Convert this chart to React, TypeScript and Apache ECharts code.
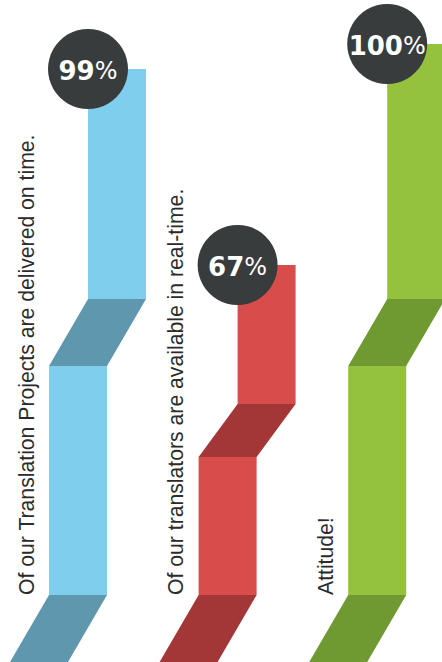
import React, { useEffect, useRef } from 'react';
import * as echarts from 'echarts';

// Texts of each ribbon
const categories = [
  'Of our Translation Projects are delivered on time.',
  'Of our translators are available in real-time.',
  'Attitude!',
];
// Percent shown in the badge of each ribbon
const percentValues = [99, 67, 100];
// Vertical levels of each ribbon (value units, 0 = bottom of the chart)
const barTops = [593, 397, 618];
const upperFoldTops = [363, 258, 363];
const upperFoldBottoms = [296, 205, 296];
const lowerFoldTops = [67, 67, 67];

const lightColors = ['#80ceed', '#d94c4c', '#94c23f'];
const darkColors = ['#5f98ae', '#a33636', '#6f9a31'];

export default function App() {
  const ref = useRef<HTMLDivElement>(null);

  useEffect(() => {
    if (!ref.current) return;
    const chart = echarts.init(ref.current, undefined, { renderer: 'svg' });
    const W = 58;
    const S = 39;
    const data = categories.map((_, i) => [
      i,
      barTops[i],
      upperFoldTops[i],
      upperFoldBottoms[i],
      lowerFoldTops[i],
    ]);
    chart.setOption({
      animation: false,
      backgroundColor: '#ffffff',
      grid: { left: 0, top: 0, right: 0, bottom: 0 },
      xAxis: { type: 'value', min: -0.5214, max: 2.4331, show: false },
      yAxis: { type: 'value', min: 0, max: 662, show: false },
      series: [
        {
          type: 'custom',
          clip: false,
          data,
          renderItem: (params: any, api: any) => {
            const i = api.value(0);
            const base = api.coord([i, 0]);
            const cx = base[0];
            const y0 = base[1];
            const yTop = api.coord([i, api.value(1)])[1];
            const yUT = api.coord([i, api.value(2)])[1];
            const yUB = api.coord([i, api.value(3)])[1];
            const yLT = api.coord([i, api.value(4)])[1];
            const L = cx - W / 2;
            const light = lightColors[i];
            const dark = darkColors[i];
            return {
              type: 'group',
              children: [
                {
                  type: 'rect',
                  shape: { x: L + S, y: yTop, width: W, height: yUT - yTop },
                  style: { fill: light },
                },
                {
                  type: 'polygon',
                  shape: {
                    points: [
                      [L + S, yUT],
                      [L + S + W, yUT],
                      [L + W, yUB],
                      [L, yUB],
                    ],
                  },
                  style: { fill: dark },
                },
                {
                  type: 'rect',
                  shape: { x: L, y: yUB, width: W, height: yLT - yUB },
                  style: { fill: light },
                },
                {
                  type: 'polygon',
                  shape: {
                    points: [
                      [L, yLT],
                      [L + W, yLT],
                      [L + W - S, y0],
                      [L - S, y0],
                    ],
                  },
                  style: { fill: dark },
                },
                {
                  type: 'text',
                  x: L - 23,
                  y: yLT,
                  rotation: Math.PI / 2,
                  style: {
                    text: categories[i],
                    fill: '#2b2b2b',
                    font: '21.2px "Liberation Sans", Arial, sans-serif',
                    align: 'left',
                    verticalAlign: 'middle',
                    textAlign: 'left',
                    textVerticalAlign: 'middle',
                  },
                },
                {
                  type: 'circle',
                  shape: { cx: L + S, cy: yTop, r: 40 },
                  style: { fill: '#383c3d' },
                },
                {
                  type: 'text',
                  x: L + S,
                  y: yTop + 2,
                  style: {
                    text: '{a|' + percentValues[i] + '}{b|%}',
                    align: 'center',
                    verticalAlign: 'middle',
                    textAlign: 'center',
                    textVerticalAlign: 'middle',
                    rich: {
                      a: {
                        fill: '#ffffff',
                        fontSize: 26,
                        fontWeight: 'bold',
                        fontFamily: '"DejaVu Sans", sans-serif',
                      },
                      b: {
                        fill: '#ffffff',
                        fontSize: 24,
                        fontWeight: 'normal',
                        fontFamily: '"DejaVu Sans", sans-serif',
                      },
                    },
                  },
                },
              ],
            };
          },
        },
      ],
    });
    return () => chart.dispose();
  }, []);

  return (
    <div
      ref={ref}
      style={{ position: 'fixed', left: 0, top: 0, width: 442, height: 662 }}
    />
  );
}
